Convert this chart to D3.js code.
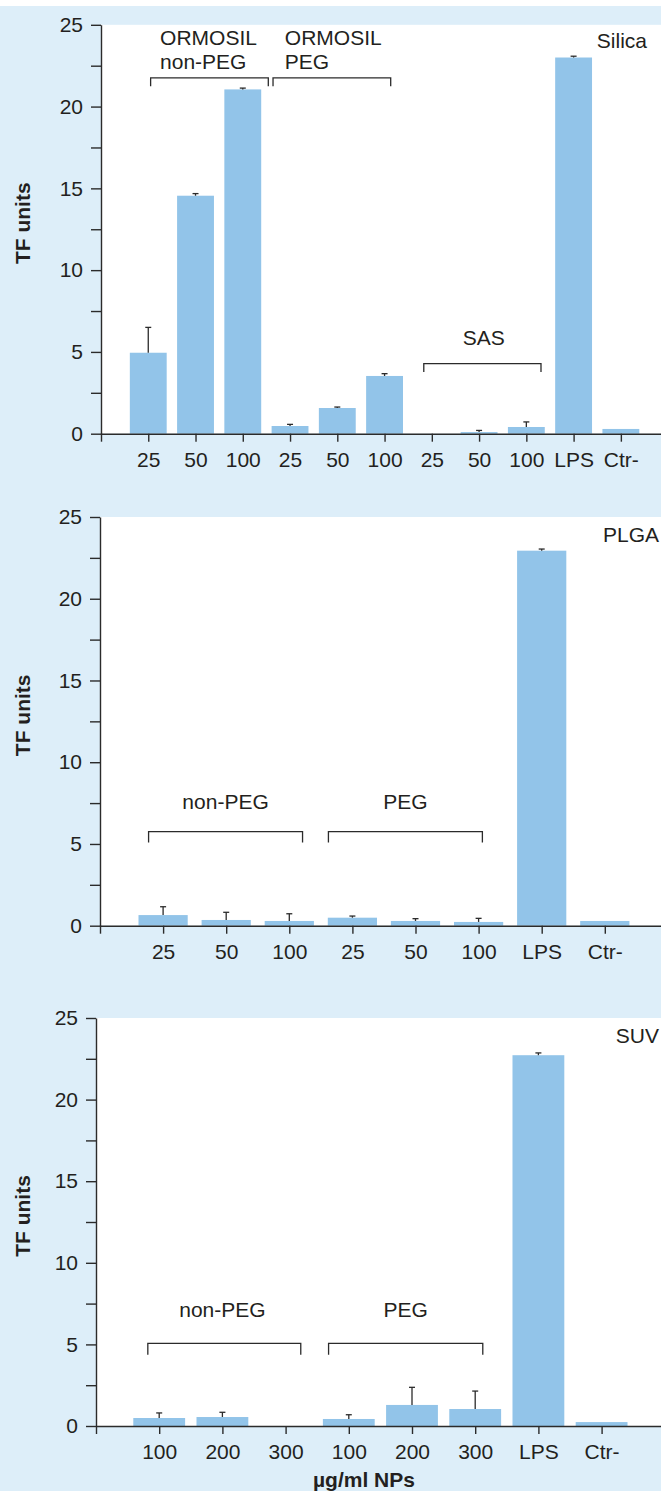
<!DOCTYPE html>
<html>
<head>
<meta charset="utf-8">
<script src="https://cdn.jsdelivr.net/npm/d3@7"></script>
<style>
  body { margin: 0; background: #fff; }
  svg { display: block; }
  text { font-family: "Liberation Sans", Arial, Helvetica, sans-serif; fill: #231f20; }
</style>
</head>
<body>
<div id="chart"></div>
<script>
// data
var silicaCats = ["25", "50", "100", "25", "50", "100", "25", "50", "100", "LPS", "Ctr-"]
var silicaVals = [4.95, 14.55, 21.05, 0.47, 1.57, 3.53, 0, 0.1, 0.41, 23.0, 0.29]
var silicaErr  = [1.55, 0.13, 0.08, 0.1, 0.06, 0.14, 0, 0.1, 0.31, 0.08, 0]

var plgaCats = ["25", "50", "100", "25", "50", "100", "LPS", "Ctr-"]
var plgaVals = [0.65, 0.35, 0.29, 0.49, 0.29, 0.23, 22.94, 0.29]
var plgaErr  = [0.51, 0.47, 0.44, 0.1, 0.14, 0.22, 0.1, 0]

var suvCats = ["100", "200", "300", "100", "200", "300", "LPS", "Ctr-"]
var suvVals = [0.49, 0.55, 0, 0.43, 1.29, 1.04, 22.72, 0.24]
var suvErr  = [0.31, 0.29, 0, 0.26, 1.08, 1.1, 0.14, 0]

var yTicks = d3.range(0, 25.01, 2.5)

var W = 661, H = 1491
var barColor = "#92c4e9"
var bgColor = "#ddeef9"
var ink = "#2b2b2b"
var fs = "21px"

var svg = d3.select("#chart").append("svg")
  .attr("width", W)
  .attr("height", H)

svg.append("rect")
  .attr("x", 0).attr("y", 6)
  .attr("width", W).attr("height", H - 6)
  .attr("fill", bgColor)

// layout of each panel; bracket spans are in slot units (slot 0 = y axis)
var panels = [
  {name: "Silica", cats: silicaCats, vals: silicaVals, err: silicaErr,
   x0: 101, step: 47.26, top: 24.8, bottom: 433.7, barW: 0.78, nameY: 48,
   brackets: [
     {from: 1.05, to: 3.54, level: 21.76, leg: 0.52, text: ["ORMOSIL", "non-PEG"], anchor: "start", tx: 1.25, ty: [23.76, 22.27]},
     {from: 3.64, to: 6.13, level: 21.76, leg: 0.52, text: ["ORMOSIL", "PEG"], anchor: "start", tx: 3.89, ty: [23.76, 22.27]},
     {from: 6.83, to: 9.31, level: 4.29, leg: 0.52, text: ["SAS"], anchor: "middle", tx: 8.1, ty: [5.43]}
   ]},
  {name: "PLGA", cats: plgaCats, vals: plgaVals, err: plgaErr,
   x0: 100, step: 63.1, top: 517, bottom: 925.7, barW: 0.78, nameY: 541.7,
   brackets: [
     {from: 0.77, to: 3.21, level: 5.76, leg: 0.67, text: ["non-PEG"], anchor: "middle", tx: 1.99, ty: [7.15]},
     {from: 3.62, to: 6.06, level: 5.76, leg: 0.67, text: ["PEG"], anchor: "middle", tx: 4.84, ty: [7.15]}
   ]},
  {name: "SUV", cats: suvCats, vals: suvVals, err: suvErr,
   x0: 96, step: 63.2, top: 1018, bottom: 1426, barW: 0.82, nameY: 1042.7,
   brackets: [
     {from: 0.82, to: 3.24, level: 5.06, leg: 0.7, text: ["non-PEG"], anchor: "middle", tx: 2.0, ty: [6.7]},
     {from: 3.68, to: 6.12, level: 5.06, leg: 0.7, text: ["PEG"], anchor: "middle", tx: 4.9, ty: [6.7]}
   ]}
]

panels.forEach(function(p, pi) {
  var g = svg.append("g")

  var maxSlot = (W - p.x0) / p.step
  var x = d3.scaleLinear().domain([0, maxSlot]).range([p.x0, W])
  var y = d3.scaleLinear().domain([0, 25]).range([p.bottom, p.top])

  // white plot area
  g.append("rect")
    .attr("x", p.x0).attr("y", y(25))
    .attr("width", W - p.x0).attr("height", y(0) - y(25))
    .attr("fill", "#fff")

  // bars
  var bw = p.barW * p.step
  g.selectAll("rect.bar")
    .data(p.vals)
    .enter()
    .append("rect")
    .attr("class", "bar")
    .attr("x", function(d, i) { return x(i + 1) - bw / 2 })
    .attr("y", function(d) { return y(d) })
    .attr("width", bw)
    .attr("height", function(d) { return y(0) - y(d) })
    .attr("fill", barColor)

  // error bars (upper only)
  var eb = g.selectAll("g.err")
    .data(p.vals.map(function(v, i) { return {v: v, e: p.err[i], i: i} }).filter(function(d) { return d.e > 0 }))
    .enter()
    .append("g")
    .attr("class", "err")
    .attr("stroke", ink)
    .attr("stroke-width", 1.3)
  eb.append("line")
    .attr("x1", function(d) { return x(d.i + 1) })
    .attr("x2", function(d) { return x(d.i + 1) })
    .attr("y1", function(d) { return y(d.v) })
    .attr("y2", function(d) { return y(d.v + d.e) })
  eb.append("line")
    .attr("x1", function(d) { return x(d.i + 1) - 3 })
    .attr("x2", function(d) { return x(d.i + 1) + 3 })
    .attr("y1", function(d) { return y(d.v + d.e) })
    .attr("y2", function(d) { return y(d.v + d.e) })

  // y axis
  var yAxis = d3.axisLeft(y)
    .tickValues(yTicks)
    .tickSize(10)
    .tickSizeOuter(0)
    .tickPadding(8)
    .tickFormat(function(d) { return d % 5 === 0 ? d : "" })
  var ya = g.append("g")
    .attr("transform", "translate(" + p.x0 + ",0)")
    .call(yAxis)
  ya.selectAll("text").style("font-size", fs).attr("fill", "#231f20")
    .style("font-family", "'Liberation Sans', Arial, sans-serif")
  ya.selectAll("line, path").attr("stroke", ink).attr("stroke-width", 1.4)

  // x axis
  var xAxis = d3.axisBottom(x)
    .tickValues(d3.range(0, p.cats.length + 1))
    .tickSize(8)
    .tickSizeOuter(0)
    .tickPadding(10)
    .tickFormat(function(d) { return d === 0 ? "" : p.cats[d - 1] })
  var xa = g.append("g")
    .attr("transform", "translate(0," + y(0) + ")")
    .call(xAxis)
  xa.selectAll("text").style("font-size", fs).attr("fill", "#231f20")
    .style("font-family", "'Liberation Sans', Arial, sans-serif")
  xa.selectAll("line, path").attr("stroke", ink).attr("stroke-width", 1.4)

  // brackets
  p.brackets.forEach(function(b) {
    g.append("path")
      .attr("d", "M" + x(b.from) + "," + y(b.level - b.leg) +
                 "V" + y(b.level) + "H" + x(b.to) + "V" + y(b.level - b.leg))
      .attr("fill", "none")
      .attr("stroke", ink)
      .attr("stroke-width", 1.3)
    b.text.forEach(function(t, k) {
      g.append("text")
        .attr("x", x(b.tx))
        .attr("y", y(b.ty[k]))
        .attr("text-anchor", b.anchor)
        .style("font-size", fs)
        .text(t)
    })
  })

  // panel name
  g.append("text")
    .attr("x", pi === 0 ? 647 : 659)
    .attr("y", p.nameY)
    .attr("text-anchor", "end")
    .style("font-size", fs)
    .text(p.name)

  // y title
  g.append("text")
    .attr("transform", "translate(30," + ((y(0) + y(25)) / 2 - 6) + ") rotate(-90)")
    .attr("text-anchor", "middle")
    .style("font-size", fs)
    .style("font-weight", "bold")
    .text("TF units")
})

svg.append("text")
  .attr("x", 364)
  .attr("y", 1487)
  .attr("text-anchor", "middle")
  .style("font-size", fs)
  .style("font-weight", "bold")
  .text("µg/ml NPs")
</script>
</body>
</html>
